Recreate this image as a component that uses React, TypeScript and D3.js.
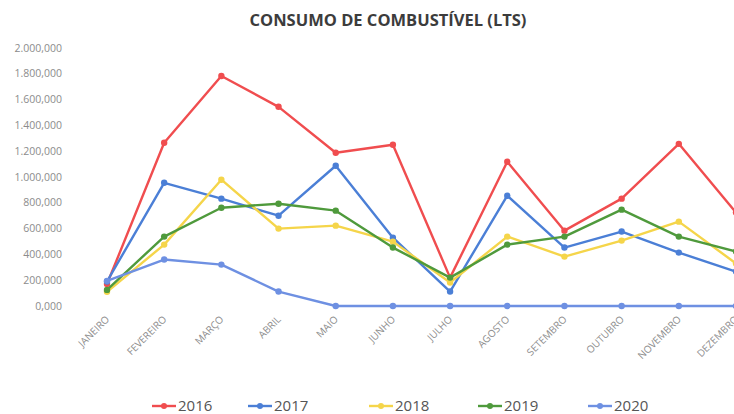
import React from "react";
import * as d3 from "d3";

const months = ["JANEIRO", "FEVEREIRO", "MARÇO", "ABRIL", "MAIO", "JUNHO", "JULHO", "AGOSTO", "SETEMBRO", "OUTUBRO", "NOVEMBRO", "DEZEMBRO"];
const yTicks = [0, 200000, 400000, 600000, 800000, 1000000, 1200000, 1400000, 1600000, 1800000, 2000000];
const yTickLabels = ["0,000", "200,000", "400,000", "600,000", "800,000", "1.000,000", "1.200,000", "1.400,000", "1.600,000", "1.800,000", "2.000,000"];

const s2016 = [170000, 1265000, 1783000, 1544000, 1188000, 1250000, 220000, 1118000, 584000, 832000, 1257000, 725000];
const s2017 = [190000, 955000, 832000, 700000, 1087000, 530000, 112000, 855000, 453000, 577000, 414000, 267000];
const s2018 = [110000, 476000, 979000, 600000, 623000, 499000, 182000, 538000, 383000, 507000, 654000, 330000];
const s2019 = [125000, 538000, 762000, 793000, 739000, 453000, 220000, 476000, 538000, 747000, 538000, 422000];
const s2020 = [195000, 360000, 321000, 112000, 0, 0, 0, 0, 0, 0, 0, 0];

const seriesNames = ["2016", "2017", "2018", "2019", "2020"];
const seriesValues = [s2016, s2017, s2018, s2019, s2020];
const seriesColors = ["#f04d4f", "#4b7fd6", "#f5d54a", "#4f9a3c", "#6e90e2"];
const legendX = [152, 248, 369, 478, 588];

export default function App() {
  const x = d3.scalePoint<string>().domain(months).range([107, 736]);
  const y = d3.scaleLinear().domain([0, 2000000]).range([306, 48]);
  const line = d3
    .line<number>()
    .x((_, i) => x(months[i]) as number)
    .y((d) => y(d));

  const font = "'Open Sans', 'Liberation Sans', sans-serif";

  return (
    <svg
      width={734}
      height={414}
      style={{ position: "absolute", left: 0, top: 0, background: "#fff" }}
      fontFamily={font}
    >
      <text x={388} y={26} textAnchor="middle" fontSize={16.5} fontWeight="bold" fill="#3c3c3c">
        CONSUMO DE COMBUSTÍVEL (LTS)
      </text>
      {yTicks.map((t, i) => (
        <text key={t} x={62} y={y(t)} dy="0.35em" textAnchor="end" fontSize={10.5} fill="#8c8c8c">
          {yTickLabels[i]}
        </text>
      ))}
      {months.map((m) => {
        const px = x(m) as number;
        return (
          <text
            key={m}
            transform={`translate(${px + 3},${320}) rotate(-45)`}
            textAnchor="end"
            fontSize={10}
            fill="#8c8c8c"
          >
            {m}
          </text>
        );
      })}
      {seriesValues.map((vals, si) => (
        <g key={seriesNames[si]}>
          <path d={line(vals) || ""} fill="none" stroke={seriesColors[si]} strokeWidth={2.4} strokeLinejoin="round" />
          {vals.map((v, i) => (
            <circle key={i} cx={x(months[i]) as number} cy={y(v)} r={3.2} fill={seriesColors[si]} />
          ))}
        </g>
      ))}
      {seriesNames.map((n, si) => (
        <g key={n} transform={`translate(${legendX[si]},406)`}>
          <line x1={0} x2={24} y1={0} y2={0} stroke={seriesColors[si]} strokeWidth={2.4} />
          <circle cx={12} cy={0} r={3} fill={seriesColors[si]} />
          <text x={26} y={0} dy="0.35em" fontSize={15} fill="#555">
            {n}
          </text>
        </g>
      ))}
    </svg>
  );
}
